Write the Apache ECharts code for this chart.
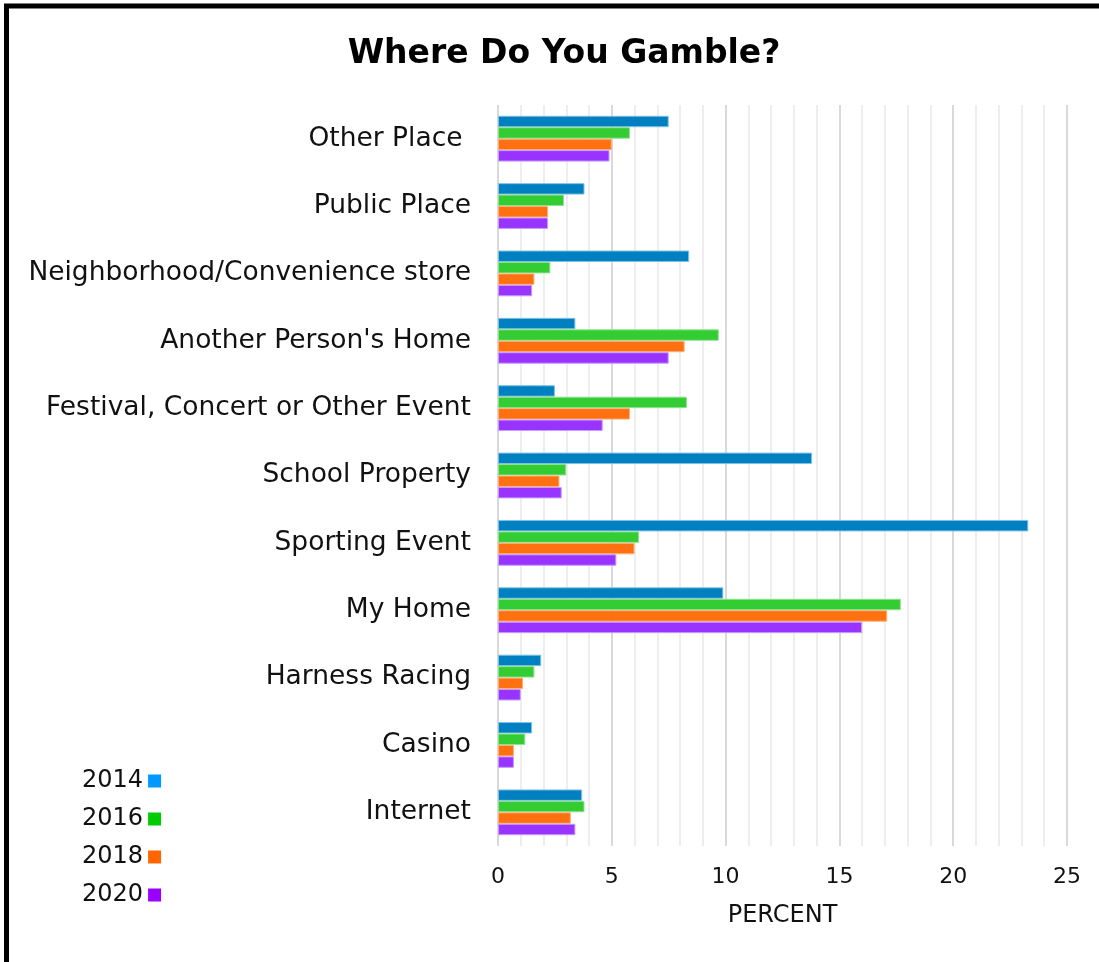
<!DOCTYPE html>
<html>
<head>
<meta charset="utf-8">
<title>Where Do You Gamble?</title>
<script src="https://cdn.jsdelivr.net/npm/echarts@6/dist/echarts.min.js"></script>
<style>
  html, body { margin: 0; padding: 0; background: #fff; }
  #chart { width: 1099px; height: 962px; }
</style>
</head>
<body>
<div id="chart"></div>
<script>
// categories listed top to bottom (y axis is inverted)
const places = [
  'Other Place ',
  'Public Place',
  'Neighborhood/Convenience store',
  "Another Person's Home",
  'Festival, Concert or Other Event',
  'School Property',
  'Sporting Event',
  'My Home',
  'Harness Racing',
  'Casino',
  'Internet'
];
const years = ['2014', '2016', '2018', '2020'];

const pct2014 = [7.5, 3.8, 8.4, 3.4, 2.5, 13.8, 23.3, 9.9, 1.9, 1.5, 3.7];
const pct2016 = [5.8, 2.9, 2.3, 9.7, 8.3, 3.0, 6.2, 17.7, 1.6, 1.2, 3.8];
const pct2018 = [5.0, 2.2, 1.6, 8.2, 5.8, 2.7, 6.0, 17.1, 1.1, 0.7, 3.2];
const pct2020 = [4.9, 2.2, 1.5, 7.5, 4.6, 2.8, 5.2, 16.0, 1.0, 0.7, 3.4];

const barColors = ['#0080c0', '#33cc33', '#ff7010', '#9933ff'];
const edgeColors = ['#7fc0e6', '#8fe38f', '#ffb07a', '#c79bff'];
const legendColors = ['#0099ff', '#00cc00', '#ff6600', '#9900ff'];

const font = 'DejaVu Sans';
const chart = echarts.init(document.getElementById('chart'));

const values = [pct2014, pct2016, pct2018, pct2020];

const option = {
  animation: false,
  backgroundColor: '#fff',
  title: {
    text: 'Where Do You Gamble?',
    left: 559,
    top: 33,
    textAlign: 'center',
    textStyle: { fontFamily: font, fontSize: 33, fontWeight: 'bold', color: '#000' }
  },
  legend: {
    orient: 'vertical',
    left: 77,
    top: 764,
    align: 'right',
    itemWidth: 13,
    itemHeight: 13,
    itemGap: 14,
    icon: 'rect',
    selectedMode: false,
    textStyle: { fontFamily: font, fontSize: 24, color: '#111' },
    data: years.map((y, i) => ({
      name: y,
      itemStyle: { color: legendColors[i], borderWidth: 0 }
    }))
  },
  grid: { left: 498, right: 32, top: 105, bottom: 116 },
  xAxis: {
    type: 'value',
    min: 0,
    max: 25,
    interval: 5,
    name: 'PERCENT',
    nameLocation: 'middle',
    nameGap: 58,
    nameTextStyle: { fontFamily: font, fontSize: 24, color: '#111' },
    axisLine: { show: false },
    axisTick: { show: false },
    axisLabel: { margin: 20, fontFamily: font, fontSize: 22, color: '#111' },
    splitLine: { show: true, lineStyle: { color: '#d9d9d9', width: 2 } },
    minorTick: { show: false, splitNumber: 5 },
    minorSplitLine: { show: true, lineStyle: { color: '#eeeeee', width: 2 } }
  },
  yAxis: {
    type: 'category',
    inverse: true,
    data: places,
    axisLine: { show: false },
    axisTick: { show: false },
    axisLabel: { margin: 27, fontFamily: font, fontSize: 26.5, color: '#111' }
  },
  series: years.map((y, i) => ({
    name: y,
    type: 'bar',
    data: values[i],
    barGap: '0%',
    barCategoryGap: '32%',
    itemStyle: { color: barColors[i], borderColor: edgeColors[i], borderWidth: 1 }
  })),
  graphic: [{
    type: 'rect',
    silent: true,
    z: 100,
    shape: { x: 6.5, y: 6, width: 1200, height: 1000 },
    style: { fill: 'none', stroke: '#000', lineWidth: 5 }
  }]
};

chart.setOption(option);
</script>
</body>
</html>
